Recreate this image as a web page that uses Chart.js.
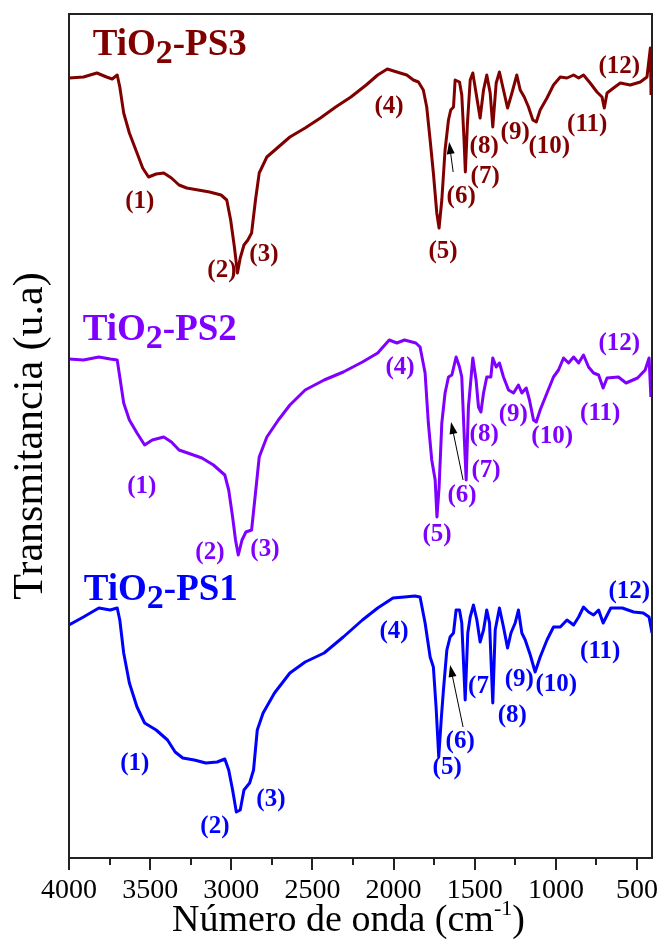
<!DOCTYPE html>
<html>
<head>
<meta charset="utf-8">
<title>FTIR TiO2-PS</title>
<script src="https://cdn.jsdelivr.net/npm/chart.js@4.4.1/dist/chart.umd.min.js"></script>
<style>
  body { margin: 0; background: #fff; }
  #wrap { width: 662px; height: 950px; }
</style>
</head>
<body>
<div id="wrap"><canvas id="ftir" width="662" height="950"></canvas></div>
<script>
// Stacked FTIR spectra, transmittance in arbitrary units (offsets already included)
const ps3Wn = [4000,3911,3828,3769,3734,3703,3687,3663,3628,3581,3546,3510,3463,3416,3369,3322,3275,3204,3134,3063,3028,3004,2981,2962,2945,2922,2898,2875,2851,2828,2781,2710,2639,2545,2451,2357,2263,2169,2098,2039,1980,1960,1919,1878,1847,1817,1796,1775,1755,1734,1720,1703,1683,1662,1648,1631,1621,1594,1580,1566,1558,1545,1528,1512,1492,1467,1446,1426,1405,1389,1368,1348,1323,1298,1271,1241,1220,1195,1169,1142,1121,1097,1055,1015,973,932,891,860,830,789,747,716,702,685,645,603,542,480,439,418,414];
const ps3T  = [780,781,785,781,779,783,771,745,725,705,690,681,684,685,680,673,670,668,666,663,658,638,611,585,600,613,618,625,658,685,701,711,721,730,740,751,761,773,783,789,786,785,783,778,776,768,751,718,685,645,630,658,708,738,748,751,778,776,763,718,686,735,778,785,765,740,768,783,765,731,775,786,768,750,765,783,768,761,751,738,736,748,760,773,781,780,783,780,783,775,766,761,750,765,770,775,773,776,781,810,763];

const ps2Wn = [4000,3911,3816,3746,3703,3687,3663,3628,3581,3534,3487,3416,3369,3322,3251,3181,3110,3040,3016,2992,2974,2957,2934,2910,2875,2851,2828,2781,2710,2639,2545,2428,2310,2192,2098,2027,1980,1933,1863,1837,1806,1786,1765,1744,1733,1720,1703,1683,1662,1641,1615,1594,1580,1564,1553,1539,1512,1492,1477,1462,1446,1426,1401,1389,1368,1348,1323,1292,1261,1231,1210,1183,1163,1138,1121,1097,1055,1015,984,953,922,891,860,830,799,768,737,709,685,615,568,497,450,426,415];
const ps2T  = [499,498,501,499,498,481,455,438,425,413,418,421,416,408,404,400,393,383,368,341,318,303,318,326,328,365,401,421,438,453,468,478,486,496,505,518,515,518,515,511,485,435,398,378,341,370,435,465,481,483,501,491,481,418,378,451,500,478,451,446,465,481,481,500,491,495,481,468,465,473,465,470,458,438,436,448,465,481,488,500,495,501,495,503,491,485,483,470,480,481,475,480,488,500,461];

const ps1Wn = [4000,3911,3816,3746,3703,3687,3663,3628,3581,3534,3463,3393,3346,3299,3228,3157,3087,3040,3016,2992,2969,2945,2922,2887,2863,2840,2804,2734,2639,2545,2428,2310,2192,2098,2004,1933,1870,1837,1806,1775,1755,1738,1722,1706,1693,1672,1652,1631,1615,1594,1580,1559,1543,1528,1508,1487,1467,1446,1426,1409,1389,1374,1348,1323,1298,1277,1251,1231,1210,1189,1158,1128,1097,1055,1015,973,932,891,860,830,799,768,737,709,662,591,521,462,426,408];
const ps1T  = [233,241,250,248,250,238,205,175,151,135,128,118,106,100,98,95,96,99,88,68,46,48,68,75,88,128,145,165,185,196,205,221,238,250,260,261,262,261,235,201,191,150,101,140,168,208,221,225,248,248,235,158,225,241,253,238,216,228,248,235,155,228,250,231,210,225,235,248,225,218,203,186,201,218,231,231,238,233,241,251,246,243,248,235,250,250,246,245,241,225];

// band labels
const peakNames    = ['(1)','(2)','(3)','(4)','(5)','(6)','(7)','(8)','(9)','(10)','(11)','(12)'];
const ps1PeakNames = ['(1)','(2)','(3)','(4)','(5)','(6)','(7','(8)','(9)','(10)','(11)','(12)'];
const ps3LabelWn = [3564,3058,2799,2028,1695,1584,1436,1442,1251,1041,807,610];
const ps3LabelT  = [656,587,603,751,606,661,681,711,725,711,733,791];
const ps2LabelWn = [3552,3132,2793,1960,1732,1578,1430,1442,1263,1023,727,610];
const ps2LabelT  = [371,305,308,490,323,362,387,423,443,421,444,514];
const ps1LabelWn = [3595,3101,2756,1997,1670,1590,1477,1269,1226,998,727,548];
const ps1LabelT  = [94,31,58,226,90,116,171,142,178,173,206,266];

// arrows pointing at the (6) shoulder: [tailWn, tailT, headWn, headT]
const ps3Arrow = [1633,686,1658,716];
const ps2Arrow = [1572,378,1646,436];
const ps1Arrow = [1572,131,1652,193];

// sample names (left edge wavenumber, baseline)
const sampleNames = ['TiO|2|-PS3','TiO|2|-PS2','TiO|2|-PS1'];
const nameWn = [3854,3915,3909];
const nameT  = [803,518,258];

const colors = ['#800000','#8000ff','#0000ff'];
const serif = "'Liberation Serif', 'Times New Roman', serif";

function points(xs, ys) {
    return xs.map((x, i) => ({x: x, y: ys[i]}));
}

const labelSets = [
    {names: peakNames, wn: ps3LabelWn, t: ps3LabelT, arrow: ps3Arrow, color: colors[0]},
    {names: peakNames, wn: ps2LabelWn, t: ps2LabelT, arrow: ps2Arrow, color: colors[1]},
    {names: ps1PeakNames, wn: ps1LabelWn, t: ps1LabelT, arrow: ps1Arrow, color: colors[2]}
];

const annotations = {
    id: 'annotations',
    beforeDatasetsDraw(chart) {
        const ctx = chart.ctx, xs = chart.scales.x, ys = chart.scales.y;
        ctx.save();
        ctx.textAlign = 'center';
        ctx.textBaseline = 'middle';
        ctx.font = 'bold 25px ' + serif;
        labelSets.forEach(set => {
            ctx.fillStyle = set.color;
            set.names.forEach((n, i) => {
                ctx.fillText(n, xs.getPixelForValue(set.wn[i]), ys.getPixelForValue(set.t[i]));
            });
            // arrow
            const a = set.arrow;
            const x0 = xs.getPixelForValue(a[0]), y0 = ys.getPixelForValue(a[1]);
            const x1 = xs.getPixelForValue(a[2]), y1 = ys.getPixelForValue(a[3]);
            const ang = Math.atan2(y1 - y0, x1 - x0);
            ctx.strokeStyle = '#000';
            ctx.fillStyle = '#000';
            ctx.lineWidth = 1;
            ctx.beginPath();
            ctx.moveTo(x0, y0);
            ctx.lineTo(x1 - 8 * Math.cos(ang), y1 - 8 * Math.sin(ang));
            ctx.stroke();
            ctx.beginPath();
            ctx.moveTo(x1, y1);
            ctx.lineTo(x1 - 12 * Math.cos(ang) + 4 * Math.sin(ang), y1 - 12 * Math.sin(ang) - 4 * Math.cos(ang));
            ctx.lineTo(x1 - 12 * Math.cos(ang) - 4 * Math.sin(ang), y1 - 12 * Math.sin(ang) + 4 * Math.cos(ang));
            ctx.closePath();
            ctx.fill();
        });

        // sample names with subscript 2
        ctx.textAlign = 'left';
        ctx.textBaseline = 'alphabetic';
        sampleNames.forEach((s, i) => {
            const parts = s.split('|');
            let x = xs.getPixelForValue(nameWn[i]);
            const y = ys.getPixelForValue(nameT[i]);
            ctx.fillStyle = colors[i];
            ctx.font = 'bold 37px ' + serif;
            ctx.fillText(parts[0], x, y);
            x += ctx.measureText(parts[0]).width;
            ctx.font = 'bold 34px ' + serif;
            ctx.fillText(parts[1], x, y + 8);
            x += ctx.measureText(parts[1]).width;
            ctx.font = 'bold 37px ' + serif;
            ctx.fillText(parts[2], x, y);
        });
        ctx.restore();
    },
    afterDraw(chart) {
        const ctx = chart.ctx, area = chart.chartArea, xs = chart.scales.x;
        ctx.save();
        // frame
        ctx.strokeStyle = '#222';
        ctx.lineWidth = 2;
        ctx.strokeRect(area.left, area.top, area.right - area.left, area.bottom - area.top);
        // outward tick marks, long at labelled values
        ctx.beginPath();
        xs.ticks.forEach(t => {
            const px = Math.round(xs.getPixelForValue(t.value));
            const len = t.value % 500 === 0 ? 12 : 7;
            ctx.moveTo(px, area.bottom);
            ctx.lineTo(px, area.bottom + len);
        });
        ctx.stroke();
        // x axis title with superscript
        const y = 931;
        const a = 'Número de onda (cm', sup = '-1', b = ')';
        ctx.fillStyle = '#000';
        ctx.font = '38px ' + serif;
        const wa = ctx.measureText(a).width, wb = ctx.measureText(b).width;
        ctx.font = '22px ' + serif;
        const ws = ctx.measureText(sup).width;
        let x = (area.left + area.right) / 2 - 12 - (wa + ws + wb) / 2;
        ctx.font = '38px ' + serif;
        ctx.fillText(a, x, y);
        x += wa;
        ctx.font = '22px ' + serif;
        ctx.fillText(sup, x, y - 16);
        x += ws;
        ctx.font = '38px ' + serif;
        ctx.fillText(b, x, y);
        ctx.restore();
    }
};

new Chart(document.getElementById('ftir'), {
    type: 'line',
    data: {
        datasets: [
            {label: 'TiO2-PS3', data: points(ps3Wn, ps3T), borderColor: colors[0]},
            {label: 'TiO2-PS2', data: points(ps2Wn, ps2T), borderColor: colors[1]},
            {label: 'TiO2-PS1', data: points(ps1Wn, ps1T), borderColor: colors[2]}
        ]
    },
    options: {
        responsive: false,
        animation: false,
        devicePixelRatio: 1,
        layout: {padding: {top: 14, right: 10, left: 0, bottom: 0}},
        elements: {
            point: {radius: 0},
            line: {borderWidth: 3, tension: 0, borderJoinStyle: 'round', fill: false}
        },
        plugins: {legend: {display: false}, tooltip: {enabled: false}},
        scales: {
            x: {
                type: 'linear',
                reverse: true,
                min: 408,
                max: 4000,
                grid: {display: false, drawTicks: false},
                border: {display: false},
                ticks: {
                    stepSize: 250,
                    includeBounds: false,
                    autoSkip: false,
                    maxRotation: 0,
                    padding: 16,
                    color: '#000',
                    font: {family: serif, size: 28},
                    callback: v => (v % 500 === 0 ? String(v) : '')
                },
                afterFit: s => {
                    s.height = 92;
                    s.paddingLeft = 0;
                    s.paddingRight = 0;
                }
            },
            y: {
                min: 0,
                max: 844,
                grid: {display: false, drawTicks: false},
                border: {display: false},
                ticks: {display: false},
                title: {
                    display: true,
                    text: 'Transmitancia (u.a)',
                    color: '#000',
                    font: {family: serif, size: 42},
                    padding: {top: 6, bottom: 0}
                },
                afterFit: s => { s.width = 69; }
            }
        }
    },
    plugins: [annotations]
});
</script>
</body>
</html>
